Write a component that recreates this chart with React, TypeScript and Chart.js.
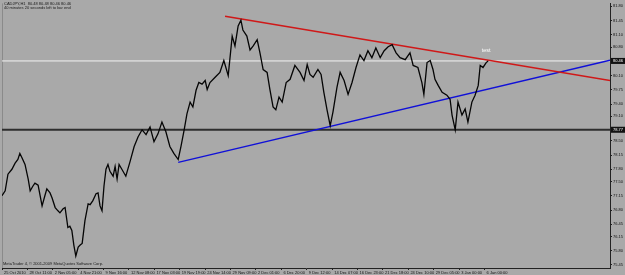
import React, { useEffect, useRef } from "react";
import { Chart, registerables } from "chart.js";

Chart.register(...registerables);

// ---- data (H1 bars since 25 Oct 2010, prices) ----
const priceBars = [
  0, 8, 15, 25, 33, 40, 45, 50, 58, 66, 71, 78, 83, 91, 101, 108, 113, 121, 126, 134,
  141, 146, 154, 159, 166, 171, 176, 181, 186, 192, 197, 202, 209, 217, 222, 229, 237, 242, 247, 252,
  257, 262, 267, 272, 280, 285, 290, 295, 302, 312, 323, 333, 343, 353, 363, 373, 383, 393, 403, 413,
  423, 433, 444, 451, 459, 466, 474, 481, 489, 496, 504, 512, 517, 524, 537, 549, 559, 570, 580, 587,
  595, 602, 607, 617, 625, 633, 643, 650, 658, 668, 675, 683, 690, 698, 706, 716, 726, 738, 751, 761,
  769, 776, 784, 796, 804, 811, 819, 827, 834, 844, 852, 862, 872, 882, 892, 902, 912, 922, 932, 942,
  953, 963, 973, 983, 993, 1003, 1016, 1028, 1036, 1048, 1058, 1063, 1071, 1079, 1086, 1091, 1099, 1109, 1121, 1129,
  1134, 1142, 1149, 1159, 1167, 1174, 1184, 1192, 1200, 1205, 1212, 1220, 1225,
];
const priceValues = [
  77.15, 77.27, 77.68, 77.80, 77.95, 78.04, 78.19, 78.09, 77.92, 77.56, 77.27, 77.39, 77.46, 77.41, 76.90, 77.15, 77.32, 77.22, 77.10, 76.86,
  76.78, 76.73, 76.83, 76.86, 76.37, 76.40, 76.30, 75.94, 75.67, 75.89, 75.94, 75.98, 76.54, 76.95, 76.93, 77.03, 77.20, 77.22, 76.90, 76.78,
  77.39, 77.80, 77.92, 77.75, 77.63, 77.87, 77.56, 77.92, 77.80, 77.63, 78.00, 78.36, 78.60, 78.77, 78.65, 78.84, 78.48, 78.67, 78.96, 78.72,
  78.36, 78.19, 78.04, 78.36, 78.77, 79.16, 79.45, 79.33, 79.74, 79.93, 79.89, 79.98, 79.76, 79.93, 80.06, 80.18, 80.47, 80.10, 81.07, 80.83,
  81.32, 81.46, 81.22, 81.07, 80.73, 80.83, 80.98, 80.66, 80.25, 80.18, 79.76, 79.33, 79.26, 79.57, 79.45, 79.93, 80.01, 80.35, 80.18, 79.98,
  80.37, 80.13, 80.06, 80.25, 80.13, 79.69, 79.26, 78.87, 79.21, 79.81, 80.18, 79.98, 79.64, 79.93, 80.30, 80.61, 80.47, 80.71, 80.54, 80.78,
  80.54, 80.71, 80.81, 80.86, 80.66, 80.54, 80.49, 80.66, 80.35, 80.30, 79.93, 79.64, 80.42, 80.47, 80.25, 80.01, 79.86, 79.69, 79.62, 79.52,
  79.13, 78.77, 79.45, 79.13, 79.28, 78.96, 79.45, 79.62, 79.86, 80.35, 80.30, 80.42, 80.46,
];

const redTrendBars = [562, 1532];
const redTrendValues = [81.56, 79.98];
const blueTrendBars = [444, 1532];
const blueTrendValues = [77.97, 80.48];

const bidPrice = 80.46;
const levelPrice = 78.77;
const testBar = 1220;
const testPrice = 80.72;

const xTickBars = [0, 64, 128, 192, 256, 320, 384, 448, 512, 576, 640, 704, 768, 832, 896, 960, 1024, 1088, 1152, 1216];
const xTickLabels = [
  "25 Oct 2010", "28 Oct 11:00", "2 Nov 05:00", "4 Nov 21:00", "9 Nov 16:00", "12 Nov 08:00", "17 Nov 03:00",
  "19 Nov 19:00", "24 Nov 14:00", "29 Nov 09:00", "2 Dec 01:00", "6 Dec 20:00", "9 Dec 12:00", "14 Dec 07:00",
  "16 Dec 23:00", "21 Dec 18:00", "24 Dec 10:00", "29 Dec 05:00", "3 Jan 00:00", "6 Jan 00:00",
];
const yTickValues = [
  81.8, 81.45, 81.1, 80.8, 80.45, 80.1, 79.75, 79.4, 79.1, 78.8, 78.5, 78.15, 77.8, 77.5, 77.15, 76.8, 76.45, 76.15, 75.8, 75.45,
];
const X_MAX = 1532;
const Y_MIN = 75.376;
const Y_MAX = 81.873;

const headerLines = ["CADJPY,H1  80.48 80.48 80.46 80.46", "40 minutes 20 seconds left to bar end"];
const copyright = "MetaTrader 4, \u00a9 2001-2009 MetaQuotes Software Corp.";

const FONT = "'Liberation Sans', Arial, sans-serif";

const decorPlugin = {
  id: "decor",
  beforeDraw(chart: any) {
    const ctx = chart.ctx;
    ctx.save();
    ctx.fillStyle = "#a9a9a9";
    ctx.fillRect(0, 0, chart.width, chart.height);
    const a = chart.chartArea;
    ctx.strokeStyle = "#8a8a8a";
    ctx.lineWidth = 1;
    ctx.beginPath();
    ctx.moveTo(a.left + 0.5, a.top);
    ctx.lineTo(a.left + 0.5, a.bottom);
    ctx.stroke();
    ctx.restore();
  },
  afterDraw(chart: any) {
    const ctx = chart.ctx;
    const a = chart.chartArea;
    const ys = chart.scales.y;
    const xs = chart.scales.x;
    ctx.save();
    ctx.font = `4px ${FONT}`;
    ctx.textBaseline = "middle";
    ctx.textAlign = "left";
    for (const v of [bidPrice, levelPrice]) {
      const py = ys.getPixelForValue(v);
      ctx.fillStyle = "#111";
      ctx.fillRect(a.right + 1, py - 3, chart.width - a.right, 6);
      ctx.fillStyle = "#fff";
      ctx.fillText(v.toFixed(2), a.right + 3, py);
    }
    ctx.fillStyle = "#1a1a1a";
    ctx.font = `4px ${FONT}`;
    ctx.fillText(headerLines[0], a.left + 2, 4);
    ctx.fillText(headerLines[1], a.left + 2, 8);
    ctx.fillText(copyright, a.left + 1, a.bottom - 4);
    ctx.fillStyle = "#ffffff";
    ctx.font = `5.5px ${FONT}`;
    ctx.textAlign = "center";
    ctx.fillText("test", xs.getPixelForValue(testBar), ys.getPixelForValue(testPrice));
    ctx.restore();
  },
};

export default function App() {
  const ref = useRef<HTMLCanvasElement | null>(null);

  useEffect(() => {
    if (!ref.current) return;
    const pts = (xs: number[], vs: number[]) => xs.map((x, i) => ({ x, y: vs[i] }));
    const chart = new Chart(ref.current, {
      type: "line",
      data: {
        datasets: [
          { data: pts(priceBars, priceValues), borderColor: "#050505", borderWidth: 1.3, borderJoinStyle: "miter" },
          { data: pts(redTrendBars, redTrendValues), borderColor: "#d01818", borderWidth: 1.5 },
          { data: pts(blueTrendBars, blueTrendValues), borderColor: "#1010d8", borderWidth: 1.5 },
          { data: pts([0, X_MAX], [bidPrice, bidPrice]), borderColor: "#f2f2f2", borderWidth: 1 },
          { data: pts([0, X_MAX], [levelPrice, levelPrice]), borderColor: "#2e2e2e", borderWidth: 2 },
        ] as any,
      },
      options: {
        animation: false,
        responsive: false,
        maintainAspectRatio: false,
        layout: { padding: { left: 2, top: 0, right: 0, bottom: 0 } },
        plugins: { legend: { display: false }, tooltip: { enabled: false } },
        elements: { point: { radius: 0 }, line: { tension: 0 } },
        scales: {
          x: {
            type: "linear",
            min: 0,
            max: X_MAX,
            position: "bottom",
            afterBuildTicks: (s: any) => {
              s.ticks = xTickBars.map((v) => ({ value: v }));
            },
            afterFit: (s: any) => {
              s.height = 7;
            },
            ticks: {
              autoSkip: false,
              maxRotation: 0,
              minRotation: 0,
              align: "start",
              labelOffset: 2,
              padding: 0,
              color: "#111",
              font: { size: 4, family: FONT },
              callback: (_v: any, i: number) => xTickLabels[i],
            },
            grid: { drawOnChartArea: false, drawTicks: true, tickLength: 2, color: "#222" },
            border: { display: true, color: "#222", width: 1 },
          },
          y: {
            type: "linear",
            position: "right",
            min: Y_MIN,
            max: Y_MAX,
            afterBuildTicks: (s: any) => {
              s.ticks = yTickValues.map((v) => ({ value: v }));
            },
            afterFit: (s: any) => {
              s.width = 15;
            },
            ticks: {
              autoSkip: false,
              padding: 1,
              color: "#111",
              font: { size: 4, family: FONT },
              callback: (v: any) => Number(v).toFixed(2),
            },
            grid: { drawOnChartArea: false, drawTicks: true, tickLength: 2, color: "#222" },
            border: { display: true, color: "#222", width: 1 },
          },
        },
      } as any,
      plugins: [decorPlugin],
    });
    return () => chart.destroy();
  }, []);

  return (
    <div style={{ position: "fixed", left: 0, top: 0, width: 625, height: 275 }}>
      <canvas ref={ref} width={625} height={275} style={{ display: "block", width: 625, height: 275 }} />
    </div>
  );
}
